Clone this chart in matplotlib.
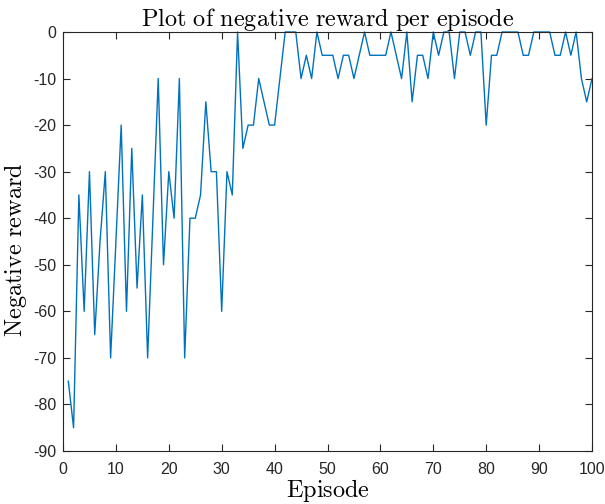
import matplotlib
matplotlib.use("Agg")
import matplotlib.pyplot as plt
import numpy as np

plt.rcParams['font.family'] = ['Liberation Sans', 'DejaVu Sans']
plt.rcParams['mathtext.fontset'] = 'cm'
plt.rcParams['axes.unicode_minus'] = False

episodes = list(range(1, 101))
rewards = [
    -75, -85, -35, -60, -30, -65, -45, -30, -70, -45,
    -20, -60, -25, -55, -35, -70, -40, -10, -50, -30,
    -40, -10, -70, -40, -40, -35, -15, -30, -30, -60,
    -30, -35, 0, -25, -20, -20, -10, -15, -20, -20,
    -10, 0, 0, 0, -10, -5, -10, 0, -5, -5,
    -5, -10, -5, -5, -10, -5, 0, -5, -5, -5,
    -5, 0, -5, -10, 0, -15, -5, -5, -10, 0,
    -5, 0, 0, -10, 0, 0, -5, 0, 0, -20,
    -5, -5, 0, 0, 0, 0, -5, -5, 0, 0,
    0, 0, -5, -5, 0, -5, 0, -10, -15, -10,
]
xticks = list(range(0, 101, 10))
yticks = list(range(-90, 1, 10))

fig = plt.figure(figsize=(6.05, 5.04), dpi=100)
ax = fig.add_axes([63/605, 1-451/504, (592-63)/605, (451-32)/504])
ax.plot(episodes, rewards, color='#0072BD', linewidth=1.0, clip_on=False)
ax.set_xlim(0, 100)
ax.set_ylim(-90, 0)
ax.set_xticks(xticks)
ax.set_yticks(yticks)
ax.tick_params(direction='in', top=True, right=True, length=5, width=0.8,
               colors='#262626', labelsize=11.5, labelcolor='#262626')
ax.tick_params(axis='x', pad=8)
ax.tick_params(axis='y', pad=5)
for s in ax.spines.values():
    s.set_color('#262626')
    s.set_linewidth(0.8)

ax.set_title(r'$\mathrm{Plot\ of\ negative\ reward\ per\ episode}$', fontsize=17.5, pad=4)
ax.set_xlabel(r'$\mathrm{Episode}$', fontsize=17.5, labelpad=0)
ax.set_ylabel(r'$\mathrm{Negative\ reward}$', fontsize=17.5, labelpad=1)
ax.yaxis.set_label_coords(-0.065, 0.48)

fig.savefig('out.png', dpi=100)
